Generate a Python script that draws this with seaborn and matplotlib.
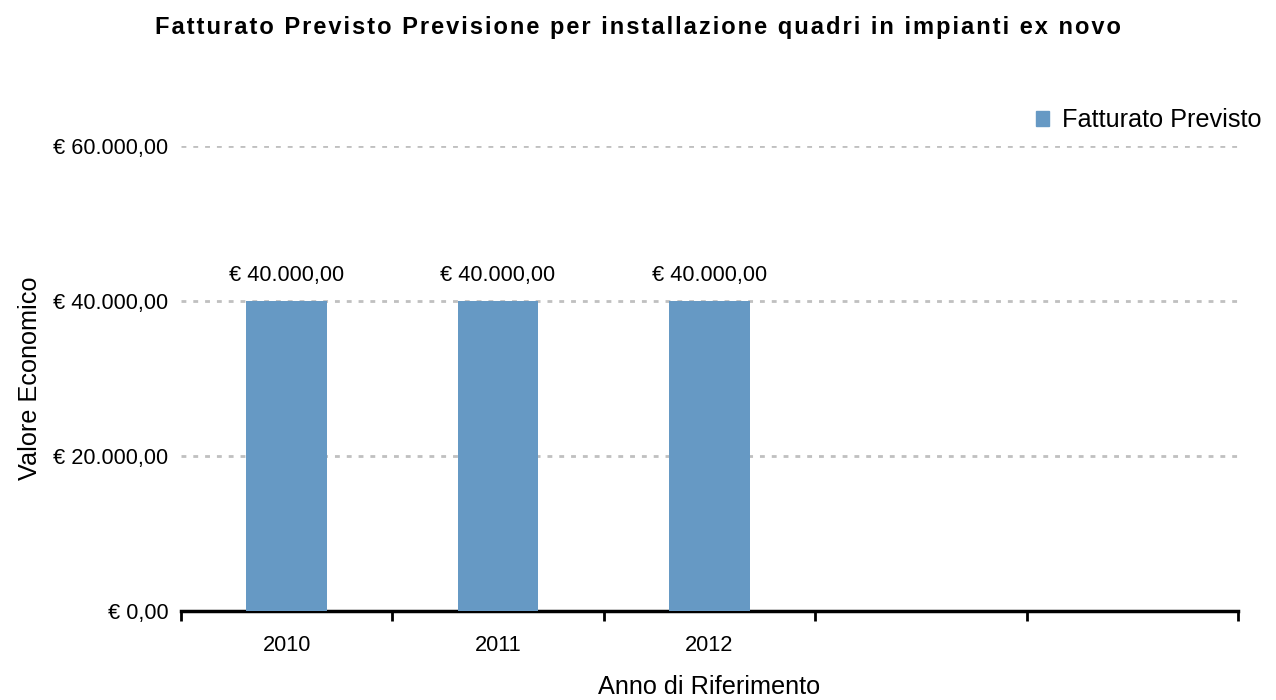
import pandas as pd
import seaborn as sns
import matplotlib.pyplot as plt
from matplotlib.patches import Patch

anni = ["2010", "2011", "2012"]
fatturato = [40000, 40000, 40000]
slot_vuoti = 2
yticks = [0, 20000, 40000, 60000]
titolo = "Fatturato Previsto Previsione per installazione quadri in impianti ex novo"

df = pd.DataFrame({"Anno": anni, "Fatturato": fatturato})

sns.set_theme(style="white")
plt.rcParams['font.family'] = ['Liberation Sans', 'DejaVu Sans']
plt.rcParams['text.color'] = 'black'
plt.rcParams['axes.labelcolor'] = 'black'
plt.rcParams['xtick.color'] = 'black'
plt.rcParams['ytick.color'] = 'black'

def euro(v):
    s = f"{v:,.2f}".replace(",", "X").replace(".", ",").replace("X", ".")
    return "€ " + s

fig = plt.figure(figsize=(12.76, 7), dpi=100)
ax = fig.add_axes([0.1418, 0.127, 0.8284, 0.664])
colore = "#6699C4"
sns.barplot(x="Anno", y="Fatturato", data=df, order=anni, color=colore,
            width=0.38, saturation=1, linewidth=0, ax=ax, zorder=3)

n = len(anni) + slot_vuoti
ax.set_xlim(-0.5, n - 0.5)
ax.set_ylim(0, 60000)
ax.set_yticks(yticks)
ax.set_yticklabels([euro(v) for v in yticks], fontsize=15.7)
ax.yaxis.grid(True, color="#C0C0C0", linestyle=(0, (1.75, 2.5)), linewidth=2, zorder=0)
ax.xaxis.grid(False)

ax.set_xticks([i - 0.5 for i in range(n + 1)])
ax.set_xticklabels([])
ax.set_xticks(range(len(anni)), minor=True)
ax.set_xticklabels(anni, minor=True, fontsize=15.7)
ax.tick_params(axis="x", which="major", direction="out", length=7, width=2, color="black", bottom=True)
ax.tick_params(axis="x", which="minor", length=0, pad=17)
ax.tick_params(axis="y", length=0, pad=9)

sns.despine(ax=ax, left=True, top=True, right=True)
ax.spines["bottom"].set_color("black")
ax.spines["bottom"].set_linewidth(2.5)

ax.bar_label(ax.containers[0], labels=[euro(v) for v in fatturato], padding=11, fontsize=15.7)

ax.set_xlabel("Anno di Riferimento", fontsize=18.2, labelpad=14)
ax.set_ylabel("Valore Economico", fontsize=18.2, labelpad=8)

fig.suptitle("\u200a".join(titolo), x=0.5, y=0.977, fontsize=17, fontweight="bold")

ax.legend(handles=[Patch(color=colore, label="Fatturato Previsto")], loc="lower right",
          bbox_to_anchor=(1.035, 1.0), frameon=False, fontsize=18.2, handlelength=0.5,
          handleheight=0.5, handletextpad=0.5, borderaxespad=0.15)

fig.savefig("out.png", dpi=100)
